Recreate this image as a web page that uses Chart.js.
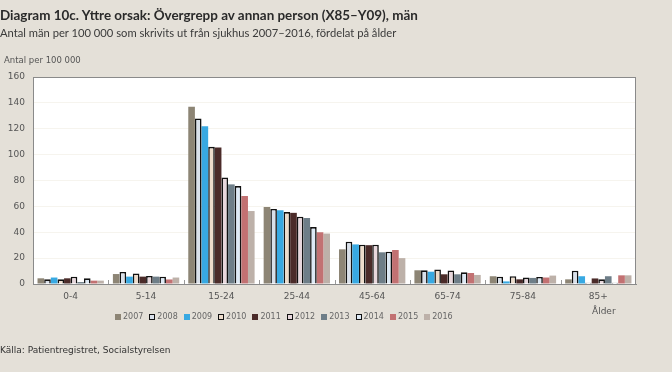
<!DOCTYPE html>
<html>
<head>
<meta charset="utf-8">
<script src="https://cdn.jsdelivr.net/npm/chart.js@4/dist/chart.umd.min.js"></script>
<style>
  html, body { margin: 0; padding: 0; }
  body { width: 672px; height: 372px; background: #e4e0d8; position: relative; overflow: hidden;
         font-family: "DejaVu Sans", sans-serif; color: #333; }
  #chartWrap { position: absolute; left: 0; top: 0; width: 672px; height: 372px; }
  .txt { position: absolute; white-space: nowrap; }
  #title { left: 0; top: 7px; font-family: Lato, sans-serif; font-size: 14px; font-weight: bold; color: #2a2a2a; }
  #subtitle { left: 0; top: 26px; font-family: Lato, sans-serif; font-size: 12px; color: #3a3a3a; }
  #yTitle { left: 4px; top: 55px; font-size: 8.5px; color: #555; }
  #xTitle { left: 592px; top: 306px; font-size: 9px; color: #555; }
  #source { left: 0; top: 345px; font-size: 9px; color: #333; }
  #legend { position: absolute; left: 115px; top: 312px; display: flex; font-size: 8px; color: #666; }
  #legend span.item { display: flex; align-items: center; margin-right: 6px; }
  #legend span.box { display: inline-block; width: 6px; height: 6px; margin-right: 2px; box-sizing: border-box; }
</style>
</head>
<body>
<div id="chartWrap"><canvas id="combinedChart"></canvas></div>
<div class="txt" id="title">Diagram 10c. Yttre orsak: Övergrepp av annan person (X85–Y09), män</div>
<div class="txt" id="subtitle">Antal män per 100 000 som skrivits ut från sjukhus 2007–2016, fördelat på ålder</div>
<div class="txt" id="yTitle">Antal per 100 000</div>
<div class="txt" id="xTitle">Ålder</div>
<div class="txt" id="source">Källa: Patientregistret, Socialstyrelsen</div>
<div id="legend"></div>
<script>
const ageGroups = ["0-4", "5-14", "15-24", "25-44", "45-64", "65-74", "75-84", "85+"];
const years = ["2007", "2008", "2009", "2010", "2011", "2012", "2013", "2014", "2015", "2016"];

const v2007 = [4.4, 7.7, 137, 59.5, 26.8, 10.6, 6, 3.6];
const v2008 = [3.6, 9.3, 128, 58, 32.7, 10.6, 5.7, 10.3];
const v2009 = [5, 5.7, 122, 57, 30.6, 9.5, 2, 6];
const v2010 = [3.6, 8.2, 106, 55.6, 30.4, 11.3, 6, 1];
const v2011 = [4.4, 5.7, 105.5, 55, 30, 7.5, 3.6, 4.3];
const v2012 = [5.7, 6.2, 82.4, 52, 30.4, 10.5, 5, 3.6];
const v2013 = [1.5, 5.7, 77, 51, 24.5, 7.5, 4.7, 6];
const v2014 = [4.4, 5.7, 75.7, 44, 25, 9, 5.5, 1];
const v2015 = [2.6, 3.5, 68, 40, 26.3, 8.5, 5, 6.7];
const v2016 = [2.6, 5, 56.4, 39, 20, 7, 6.5, 6.7];

const seriesValues = [v2007, v2008, v2009, v2010, v2011, v2012, v2013, v2014, v2015, v2016];
const fills = ["#8d8575", "#d9e0ea", "#38a9e2", "#eddccb", "#4b2b29", "#e8d7dc", "#6e7e88", "#dde9f5", "#c27172", "#bdb1a9"];
const outlined = [false, true, false, true, false, true, false, true, false, false];

// squeeze header lines to the width they have in the picture
function fitWidth(id, target) {
  const el = document.getElementById(id);
  const size = parseFloat(getComputedStyle(el).fontSize);
  el.style.fontSize = (size * target / el.getBoundingClientRect().width) + "px";
}
fitWidth("title", 418);
fitWidth("subtitle", 397);

const datasets = years.map((y, i) => ({
  label: y,
  data: seriesValues[i],
  backgroundColor: fills[i],
  borderColor: outlined[i] ? "#111" : fills[i],
  borderWidth: outlined[i] ? 1.6 : 0,
  barPercentage: 1.0,
  categoryPercentage: 0.88
}));

// html legend
const legend = document.getElementById("legend");
years.forEach((y, i) => {
  let item = document.createElement("span");
  item.className = "item";
  let box = document.createElement("span");
  box.className = "box";
  box.style.background = fills[i];
  if (outlined[i]) box.style.border = "1.5px solid #111";
  item.appendChild(box);
  item.appendChild(document.createTextNode(y));
  legend.appendChild(item);
});

const plotFrame = {
  id: "plotFrame",
  beforeDraw(c) {
    const a = c.chartArea, ctx = c.ctx;
    ctx.save();
    ctx.fillStyle = "#ffffff";
    ctx.fillRect(a.left, a.top, a.right - a.left, a.bottom - a.top);
    ctx.restore();
  },
  afterDraw(c) {
    const a = c.chartArea, ctx = c.ctx;
    ctx.save();
    ctx.strokeStyle = "#8a8a8a";
    ctx.lineWidth = 1;
    ctx.strokeRect(a.left + 0.5, a.top + 0.5, a.right - a.left - 1, a.bottom - a.top);
    // small tick marks between age groups, pointing into the plot
    const xs = c.scales.x;
    ctx.strokeStyle = "#9a9a9a";
    for (let i = 1; i < ageGroups.length; i++) {
      const x = Math.round((xs.getPixelForTick(i - 1) + xs.getPixelForTick(i)) / 2) + 0.5;
      ctx.beginPath();
      ctx.moveTo(x, a.bottom);
      ctx.lineTo(x, a.bottom - 4);
      ctx.stroke();
    }
    ctx.restore();
  }
};

const ctx = document.getElementById("combinedChart").getContext("2d");
const chart = new Chart(ctx, {
  type: "bar",
  data: { labels: ageGroups, datasets },
  plugins: [plotFrame],
  options: {
    responsive: true,
    maintainAspectRatio: false,
    animation: false,
    layout: { padding: { left: 0, right: 36, top: 77, bottom: 68 } },
    plugins: { legend: { display: false }, tooltip: { enabled: false } },
    scales: {
      x: {
        grid: { display: false, drawTicks: false },
        border: { color: "#8a8a8a" },
        ticks: { color: "#555", font: { family: "DejaVu Sans", size: 9 }, padding: 7 },
        afterFit(s) { s.height = 20; }
      },
      y: {
        min: 0, max: 160,
        ticks: { stepSize: 20, color: "#555", font: { family: "DejaVu Sans", size: 9 }, padding: 8 },
        grid: { color: "#f6f4ee", drawTicks: false },
        border: { color: "#8a8a8a" },
        afterFit(s) { s.width = 33; }
      }
    }
  }
});
</script>
</body>
</html>
